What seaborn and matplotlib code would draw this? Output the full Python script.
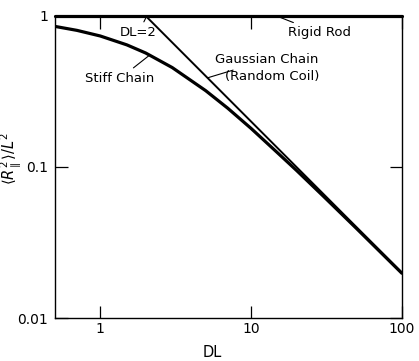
import matplotlib
matplotlib.use("Agg")
import matplotlib.pyplot as plt
import seaborn as sns
import pandas as pd

# data
stiff_dl = [0.5, 0.7, 1, 1.5, 2, 3, 5, 7, 10, 15, 20, 30, 50, 100]
stiff_r = [0.852, 0.802, 0.736, 0.643, 0.568, 0.455, 0.320, 0.245, 0.180, 0.124, 0.095, 0.0644, 0.0392, 0.0198]
gauss_dl = [2, 100]
gauss_r = [1.0, 0.02]
rod_dl = [0.5, 100]
rod_r = [1.0, 1.0]

xticks = [1, 10, 100]
xtick_labels = ["1", "10", "100"]
yticks = [0.01, 0.1, 1]
ytick_labels = ["0.01", "0.1", "1"]

sns.set_style("ticks")
plt.rcParams['font.family'] = ['DejaVu Sans']
plt.rcParams['text.color'] = 'black'
plt.rcParams['axes.labelcolor'] = 'black'

fig = plt.figure(figsize=(4.19, 3.61), dpi=100)
ax = fig.add_axes([0.131, 0.119, 0.828, 0.837])

df_s = pd.DataFrame({"DL": stiff_dl, "R": stiff_r})
df_g = pd.DataFrame({"DL": gauss_dl, "R": gauss_r})
df_r = pd.DataFrame({"DL": rod_dl, "R": rod_r})

sns.lineplot(data=df_s, x="DL", y="R", ax=ax, color="black", lw=2.3, sort=True)
sns.lineplot(data=df_g, x="DL", y="R", ax=ax, color="black", lw=1.4)
sns.lineplot(data=df_r, x="DL", y="R", ax=ax, color="black", lw=2.3, clip_on=False)

ax.set_xscale("log")
ax.set_yscale("log")
ax.set_xlim(0.5, 100)
ax.set_ylim(0.01, 1)
ax.set_xticks(xticks)
ax.set_xticklabels(xtick_labels)
ax.set_yticks(yticks)
ax.set_yticklabels(ytick_labels)
ax.minorticks_off()
ax.tick_params(axis="both", which="major", direction="in", length=9, width=0.9,
               top=True, right=True, labelsize=10, colors="black")
ax.tick_params(axis="x", pad=3)
ax.tick_params(axis="y", pad=5)
for s in ax.spines.values():
    s.set_visible(True)
    s.set_linewidth(1.0)
    s.set_color("black")

ax.set_xlabel("DL", fontsize=10.5, va="center", ha="center", color="black")
ax.set_ylabel(r"$\langle R_{\parallel}^{2}\rangle/L^{2}$", fontsize=10.5, va="center", ha="center", color="black")
ax.xaxis.set_label_coords(0.455, -0.113)
ax.yaxis.set_label_coords(-0.125, 0.526)

fs = 9.5
arrow = dict(arrowstyle="-", lw=0.8, color="black", shrinkA=1, shrinkB=0)
ax.annotate("DL=2", xy=(2.0, 0.965), xytext=(1.79, 0.772), fontsize=fs, ha="center", va="center",
            color="black", arrowprops=arrow)
ax.annotate("Stiff Chain", xy=(2.1, 0.545), xytext=(1.35, 0.385), fontsize=fs, ha="center", va="center",
            color="black", arrowprops=arrow)
ax.annotate("Rigid Rod", xy=(15.1, 0.99), xytext=(17.6, 0.772), fontsize=fs, ha="left", va="center",
            color="black", arrowprops=arrow)
ax.annotate("Gaussian Chain", xy=(5.19, 0.39), xytext=(5.78, 0.511), fontsize=fs, ha="left", va="center",
            color="black", arrowprops=arrow)
ax.text(6.73, 0.40, "(Random Coil)", fontsize=fs, ha="left", va="center", color="black")

fig.savefig("out.png", dpi=100)
